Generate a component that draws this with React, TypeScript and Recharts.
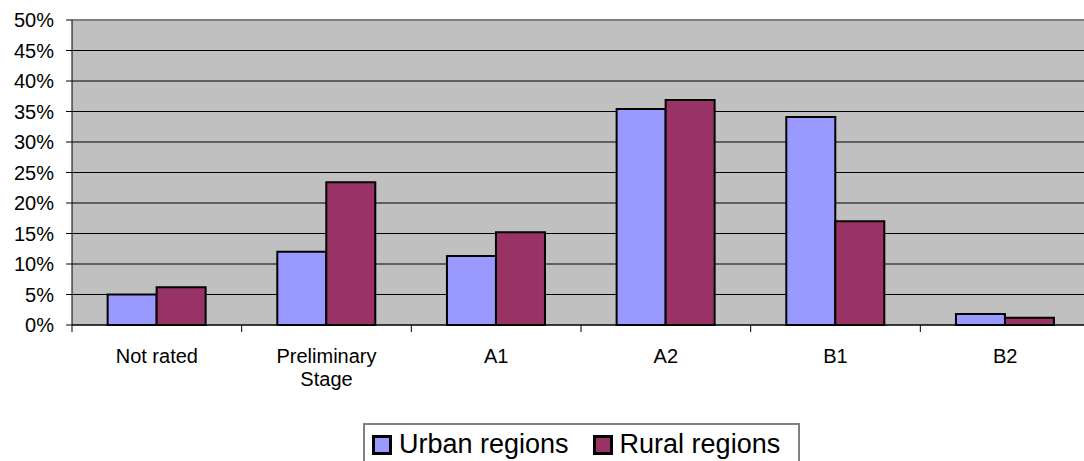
import React from "react";
import { BarChart, Bar, XAxis, YAxis, CartesianGrid, ReferenceLine } from "recharts";

const categories = ["Not rated", "Preliminary Stage", "A1", "A2", "B1", "B2"];
const urban = [5.0, 12.0, 11.3, 35.4, 34.1, 1.8];
const rural = [6.2, 23.4, 15.2, 36.9, 17.0, 1.2];
const yTicks = [0, 5, 10, 15, 20, 25, 30, 35, 40, 45, 50];

const data = categories.map((name, i) => ({ name, urban: urban[i], rural: rural[i] }));

const FONT = "'Liberation Sans', Arial, sans-serif";
const CHART_W = 1092;
const PLOT_LEFT = 72;
const PLOT_RIGHT_MARGIN = 2;
const BAND = (CHART_W - PLOT_LEFT - PLOT_RIGHT_MARGIN) / categories.length;

function CategoryTick(props: any) {
  const { x, y, payload } = props;
  const lines = String(payload.value) === "Preliminary Stage" ? ["Preliminary", "Stage"] : [String(payload.value)];
  const left = x - BAND / 2;
  return (
    <g>
      <line x1={left} y1={y} x2={left} y2={y + 7} stroke="#000" strokeWidth={1} />
      <text x={x} y={y + 38} textAnchor="middle" fontSize={20} fontFamily={FONT} fill="#000">
        {lines.map((l, i) => (
          <tspan key={i} x={x} dy={i === 0 ? 0 : 23}>
            {l}
          </tspan>
        ))}
      </text>
    </g>
  );
}

function LegendBox() {
  const item = (color: string, label: string, ml: number) => (
    <div style={{ display: "flex", alignItems: "center", marginLeft: ml }}>
      <div
        style={{
          width: 20,
          height: 20,
          boxSizing: "border-box",
          border: "3px solid #000",
          background: color,
          marginRight: 7,
        }}
      />
      <span style={{ fontSize: 27, fontFamily: FONT, color: "#000", lineHeight: "27px" }}>{label}</span>
    </div>
  );
  return (
    <div
      style={{
        position: "absolute",
        left: 363,
        top: 423,
        width: 437,
        height: 38,
        boxSizing: "border-box",
        border: "2px solid #808080",
        borderBottom: "none",
        display: "flex",
        alignItems: "flex-start",
        paddingTop: 6,
        paddingLeft: 7,
        background: "#fff",
      }}
    >
      {item("#9999FF", "Urban regions", 0)}
      {item("#993366", "Rural regions", 24)}
    </div>
  );
}

export default function App() {
  return (
    <div style={{ position: "absolute", left: 0, top: 0, width: 1084, height: 461, overflow: "hidden", background: "#fff" }}>
      <BarChart
        width={CHART_W}
        height={461}
        data={data}
        margin={{ top: 20, right: PLOT_RIGHT_MARGIN, left: 0, bottom: 0 }}
        barCategoryGap="21%"
        barGap={0}
      >
        <CartesianGrid vertical={false} fill="#C0C0C0" stroke="#000" strokeWidth={1} />
        <XAxis
          dataKey="name"
          height={136}
          tickSize={0}
          tickMargin={0}
          tickLine={false}
          axisLine={{ stroke: "#000", strokeWidth: 1 }}
          interval={0}
          tick={<CategoryTick />}
        />
        <YAxis
          width={PLOT_LEFT}
          domain={[0, 50]}
          ticks={yTicks}
          interval={0}
          tickSize={6}
          tickMargin={12}
          tickFormatter={(v: number) => `${v}%`}
          tick={{ fontSize: 20, fontFamily: FONT, fill: "#000" }}
          tickLine={{ stroke: "#000" }}
          axisLine={{ stroke: "#000", strokeWidth: 1 }}
        />
        <ReferenceLine y={50} stroke="#808080" strokeWidth={2} />
        <Bar dataKey="urban" name="Urban regions" fill="#9999FF" stroke="#000" strokeWidth={2} isAnimationActive={false} />
        <Bar dataKey="rural" name="Rural regions" fill="#993366" stroke="#000" strokeWidth={2} isAnimationActive={false} />
      </BarChart>
      <LegendBox />
    </div>
  );
}
